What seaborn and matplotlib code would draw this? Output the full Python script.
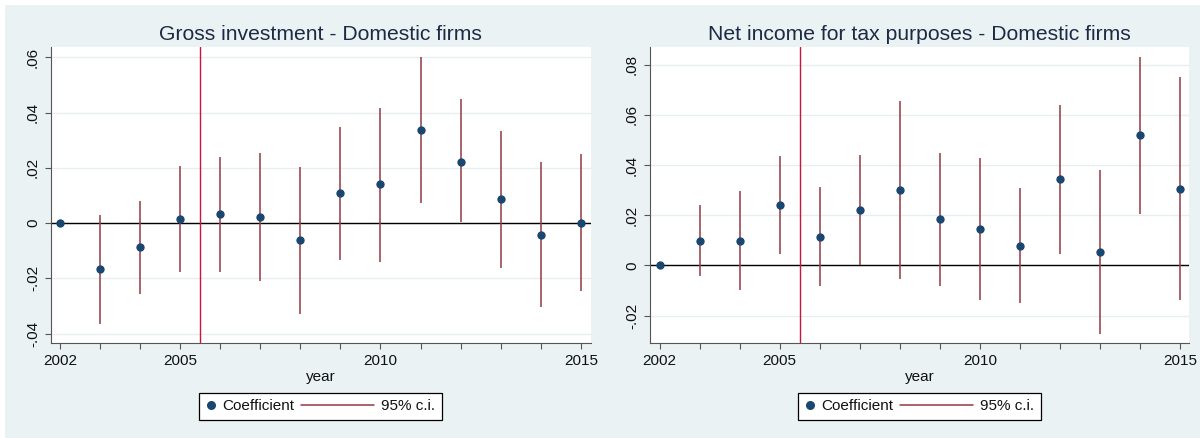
import numpy as np
import pandas as pd
import seaborn as sns
import matplotlib
matplotlib.use("Agg")
import matplotlib.pyplot as plt
from matplotlib.lines import Line2D
from matplotlib.legend_handler import HandlerBase
from matplotlib.patches import Rectangle
from matplotlib.ticker import FuncFormatter, FixedLocator

# ---------------- data ----------------
years = [2002, 2003, 2004, 2005, 2006, 2007, 2008, 2009, 2010, 2011, 2012, 2013, 2014, 2015]
nan = np.nan

gi_title = "Gross investment - Domestic firms"
gi_coef = [0.0, -0.0168, -0.0088, 0.0014, 0.0031, 0.0023, -0.0063, 0.0107, 0.0140, 0.0336, 0.0222, 0.0086, -0.0042, 0.0]
gi_low = [nan, -0.0366, -0.0258, -0.0176, -0.0176, -0.0209, -0.0328, -0.0135, -0.0140, 0.0073, 0.0002, -0.0162, -0.0305, -0.0245]
gi_high = [nan, 0.0029, 0.0081, 0.0206, 0.0240, 0.0255, 0.0203, 0.0348, 0.0418, 0.0600, 0.0448, 0.0333, 0.0222, 0.0250]
gi_yticks = [-0.04, -0.02, 0.0, 0.02, 0.04, 0.06]

ni_title = "Net income for tax purposes - Domestic firms"
ni_coef = [0.0, 0.0098, 0.0099, 0.0241, 0.0115, 0.0221, 0.0302, 0.0184, 0.0146, 0.0078, 0.0344, 0.0054, 0.0518, 0.0305]
ni_low = [nan, -0.0044, -0.0097, 0.0047, -0.0081, 0.0003, -0.0053, -0.0080, -0.0136, -0.0151, 0.0047, -0.0272, 0.0206, -0.0139]
ni_high = [nan, 0.0241, 0.0297, 0.0437, 0.0312, 0.0440, 0.0656, 0.0447, 0.0427, 0.0308, 0.0639, 0.0381, 0.0831, 0.0749]
ni_yticks = [-0.02, 0.0, 0.02, 0.04, 0.06, 0.08]

xtick_labels = [2002, 2005, 2010, 2015]
reform_year = 2005.5

# ---------------- style ----------------
sns.set_style("white")
plt.rcParams["font.family"] = ["Liberation Sans", "DejaVu Sans"]

BG = "#EAF2F3"
NAVY = "#1A476F"
MAROON = "#96414A"
RED = "#C8163C"
TXT = "#1C2A44"
AX = "#555555"

W, H = 1200, 438
fig = plt.figure(figsize=(12, 4.38), dpi=100)
fig.patch.set_facecolor("white")
fig.add_artist(Rectangle((5 / W, 0), 1 - 5 / W, 1 - 5 / H, transform=fig.transFigure,
                         facecolor=BG, edgecolor="none", zorder=-10))


def fx(px):
    return px / W


def fy(py):
    return 1 - py / H


def ylab(v, pos):
    if abs(v) < 1e-12:
        return "0"
    s = f"{v:.2f}"
    return s.replace("0.", ".")


class LongLineHandler(HandlerBase):
    def __init__(self, ext, **kw):
        super().__init__(**kw)
        self.ext = ext

    def create_artists(self, legend, orig_handle, xdescent, ydescent, width, height, fontsize, trans):
        y = height / 2 - ydescent
        ln = Line2D([-xdescent - self.ext, -xdescent + width], [y, y],
                    color=orig_handle.get_color(), lw=orig_handle.get_linewidth())
        ln.set_transform(trans)
        return [ln]


panels = [
    dict(title=gi_title, coef=gi_coef, low=gi_low, high=gi_high, yticks=gi_yticks,
         rect=[fx(51), fy(343), fx(590.5) - fx(51), fy(47) - fy(343)],
         ylim=(-0.0434, 0.0637), xlim=(2001.78, 2015.24), legx=320.5),
    dict(title=ni_title, coef=ni_coef, low=ni_low, high=ni_high, yticks=ni_yticks,
         rect=[fx(650), fy(343), fx(1189.4) - fx(650), fy(47) - fy(343)],
         ylim=(-0.0309, 0.0870), xlim=(2001.76, 2015.23), legx=919.5),
]

for p in panels:
    ax = fig.add_axes(p["rect"])
    ax.set_facecolor("white")
    df = pd.DataFrame({"year": years, "coef": p["coef"], "low": p["low"], "high": p["high"]})

    for t in p["yticks"]:
        ax.axhline(t, color="#E6EEF0", lw=1.0, zorder=0)

    ci = df.dropna()
    ax.vlines(ci["year"], ci["low"], ci["high"], color=MAROON, lw=1.15, zorder=2)
    ax.axhline(0, color="black", lw=1.0, zorder=1.5)
    ax.axvline(reform_year, color=RED, lw=1.0, zorder=2.5)
    sns.scatterplot(data=df, x="year", y="coef", ax=ax, color=NAVY, s=36,
                    linewidth=0, zorder=3, legend=False)

    ax.set_xlim(*p["xlim"])
    ax.set_ylim(*p["ylim"])
    ax.xaxis.set_major_locator(FixedLocator(years))
    ax.set_xticklabels([str(y) if y in xtick_labels else "" for y in years])
    ax.yaxis.set_major_locator(FixedLocator(p["yticks"]))
    ax.yaxis.set_major_formatter(FuncFormatter(ylab))
    ax.tick_params(axis="both", which="major", direction="out", length=4, width=0.8,
                   color=AX, labelsize=11, labelcolor="#111111", pad=4,
                   bottom=True, left=True)
    for lab in ax.get_yticklabels():
        lab.set_rotation(90)
        lab.set_va("center")
    for side in ["top", "right"]:
        ax.spines[side].set_visible(False)
    for side in ["left", "bottom"]:
        ax.spines[side].set_color(AX)
        ax.spines[side].set_linewidth(0.8)

    ax.set_ylabel("")
    ax.set_xlabel("year", fontsize=11, color="#111111", labelpad=1)
    ax.set_title(p["title"], fontsize=15.2, color=TXT, pad=5)

    h_dot = Line2D([], [], ls="none", marker="o", markersize=6.5, color=NAVY, markeredgewidth=0)
    h_line = Line2D([], [], color=MAROON, lw=1.15)
    leg = ax.legend([h_dot, h_line], ["Coefficient", "95% c.i."], ncol=2,
                    loc="center", bbox_to_anchor=(fx(p["legx"]), fy(406.5)),
                    bbox_transform=fig.transFigure, fontsize=11, frameon=True,
                    fancybox=False, edgecolor="black", facecolor="white", framealpha=1,
                    handlelength=0.6, handletextpad=0.45, columnspacing=4.6,
                    borderpad=0.45, handler_map={h_line: LongLineHandler(ext=46)})
    leg.get_frame().set_linewidth(0.9)
    for t in leg.get_texts():
        t.set_color("#111111")

fig.savefig("out.png", dpi=100, facecolor=fig.get_facecolor())
